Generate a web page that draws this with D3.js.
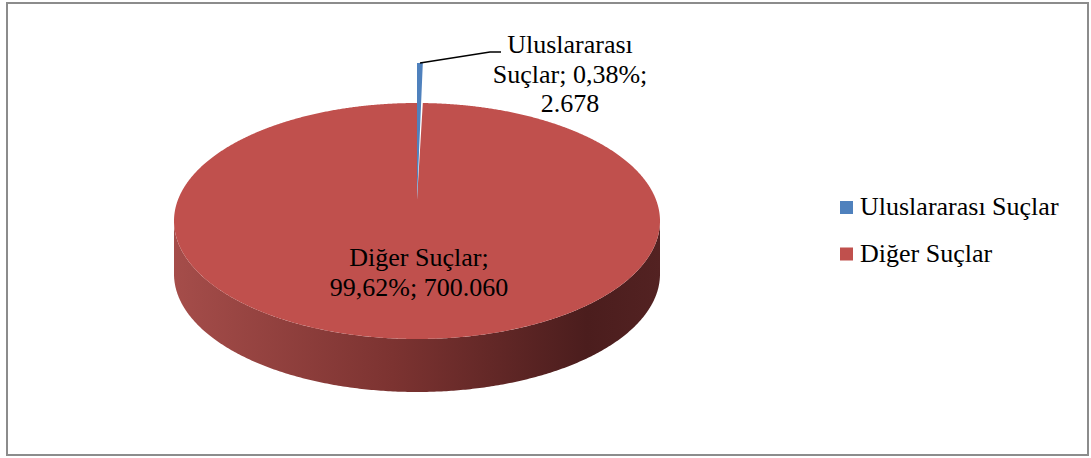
<!DOCTYPE html>
<html>
<head>
<meta charset="utf-8">
<script src="https://cdn.jsdelivr.net/npm/d3@7"></script>
<style>
  body { margin: 0; background: #fff; }
  svg text { font-family: "Liberation Serif", "Times New Roman", serif; fill: #000; }
</style>
</head>
<body>
<div id="chart"></div>
<script>
// data
var categories = ["Uluslararası Suçlar", "Diğer Suçlar"];
var counts = [2678, 700060];
var colors = ["#4f81bd", "#c0504d"];

var width = 1091, height = 458;

// number format, Turkish style
var tr = d3.formatLocale({decimal: ",", thousands: ".", grouping: [3], currency: ["", " TL"]});
var fmtPct = tr.format(".2%"), fmtNum = tr.format(",d");

var svg = d3.select("#chart").append("svg")
  .attr("width", width)
  .attr("height", height);

// chart border
svg.append("rect")
  .attr("x", 7).attr("y", 3)
  .attr("width", 1081).attr("height", 452)
  .attr("fill", "none")
  .attr("stroke", "#8c8c8c")
  .attr("stroke-width", 2);

// pie geometry (tilted ellipse)
var cx = 417, cy = 221, rx = 243, ry = 118, depth = 53;
var hubY = 200;

var total = d3.sum(counts);
var pie = d3.pie().sort(null).value(function(d) { return d; });
var arcs = pie(counts);

function pt(a, yc, r2) {
  return [cx + rx * Math.sin(a), yc - (r2 || ry) * Math.cos(a)];
}
var line = d3.line();

// gradient for the side wall
var defs = svg.append("defs");
var grad = defs.append("linearGradient").attr("id", "side")
  .attr("x1", "0%").attr("x2", "100%").attr("y1", "0%").attr("y2", "0%");
grad.append("stop").attr("offset", "0%").attr("stop-color", "#a54d4a");
grad.append("stop").attr("offset", "45%").attr("stop-color", "#7c3331");
grad.append("stop").attr("offset", "85%").attr("stop-color", "#4b1d1d");
grad.append("stop").attr("offset", "100%").attr("stop-color", "#532222");

// side wall (front half of the red slice)
var sideA = d3.range(Math.PI / 2, 3 * Math.PI / 2 + 0.001, 0.01);
var sidePts = sideA.map(function(a) { return pt(a, cy); })
  .concat(sideA.slice().reverse().map(function(a) { return pt(a, cy + depth); }));
svg.append("path")
  .attr("d", line(sidePts) + "Z")
  .attr("fill", "url(#side)");

// top face of the red slice
var red = arcs[1];
var redA = d3.range(red.startAngle, red.endAngle, 0.005).concat([red.endAngle]);
var redPts = [[cx, hubY]].concat(redA.map(function(a) { return pt(a, cy); }));
svg.append("path")
  .attr("d", line(redPts) + "Z")
  .attr("fill", colors[1]);

// blue sliver (raised)
var blue = arcs[0];
var blueA = d3.range(blue.startAngle, blue.endAngle, 0.002).concat([blue.endAngle]);
var bluePts = [[cx, hubY]].concat(blueA.map(function(a) { return pt(a, hubY, 137); }));
svg.append("path")
  .attr("d", line(bluePts) + "Z")
  .attr("fill", colors[0]);

// leader line for the small slice
svg.append("path")
  .attr("d", line([[420, 63], [490, 52], [501, 52]]))
  .attr("fill", "none")
  .attr("stroke", "#000")
  .attr("stroke-width", 1.5);

// data labels
var fs = 26;
var lbl0 = ["Uluslararası", "Suçlar; " + fmtPct(counts[0] / total) + ";", fmtNum(counts[0])];
svg.append("text")
  .attr("text-anchor", "middle")
  .attr("font-size", fs)
  .selectAll("tspan").data(lbl0).join("tspan")
  .attr("x", 570)
  .attr("y", function(d, i) { return 53 + i * 29.5; })
  .text(function(d) { return d; });

var lbl1 = ["Diğer Suçlar;", fmtPct(counts[1] / total) + "; " + fmtNum(counts[1])];
svg.append("text")
  .attr("text-anchor", "middle")
  .attr("font-size", fs)
  .selectAll("tspan").data(lbl1).join("tspan")
  .attr("x", 419)
  .attr("y", function(d, i) { return 266 + i * 30; })
  .text(function(d) { return d; });

// legend
var leg = svg.append("g").selectAll("g").data(categories).join("g")
  .attr("transform", function(d, i) { return "translate(840," + (201 + i * 46.5) + ")"; });
leg.append("rect")
  .attr("width", 13).attr("height", 13)
  .attr("fill", function(d, i) { return colors[i]; });
leg.append("text")
  .attr("x", 20).attr("y", 14)
  .attr("font-size", fs)
  .text(function(d) { return d; });
</script>
</body>
</html>
